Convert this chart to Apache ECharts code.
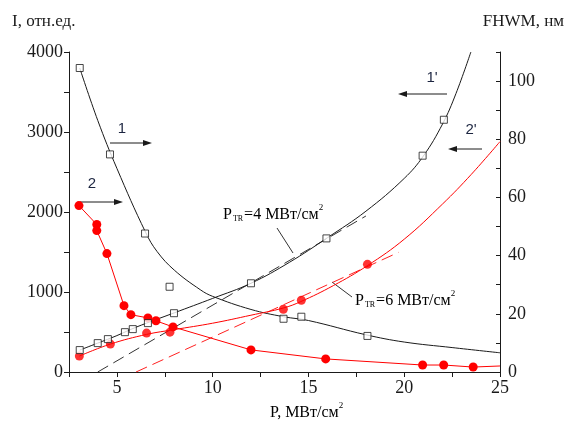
<!DOCTYPE html>
<html>
<head>
<meta charset="utf-8">
<script src="https://cdn.jsdelivr.net/npm/echarts@6/dist/echarts.min.js"></script>
<style>
  html, body { margin: 0; padding: 0; background: #fff; }
  #chart { width: 567px; height: 424px; }
</style>
</head>
<body>
<div id="chart"></div>
<script>
// curve 1 - FHWM (right axis), black squares + fitted line
const sq1P = [3.06, 4.64, 6.47, 7.75, 13.7, 14.63, 18.08]
const sq1W = [104.5, 74.8, 47.6, 29.3, 18.3, 19.0, 12.4]
const fit1P = [3.06, 4, 5, 6.5, 7.1, 8, 9.35, 10, 12, 13.7, 15, 18, 20, 22.5, 25]
const fit1W = [104.5, 86.5, 70, 48, 41.4, 35, 28.3, 26, 21.5, 19, 17.7, 12.8, 10.3, 8.4, 6.6]

// curve 1' - intensity (left axis), black squares + fitted line
const sq1pP = [3.06, 4.0, 4.53, 5.42, 5.83, 6.62, 7.98, 12.0, 15.94, 20.96, 22.07]
const sq1pI = [274, 361, 411, 498, 536, 611, 735, 1109, 1670, 2704, 3153]
const fit1pP = [3.06, 4, 5, 6, 8, 10, 12, 14, 16, 18, 20, 21, 22, 22.7, 23.48]
const fit1pI = [274, 361, 455, 560, 740, 920, 1109, 1370, 1680, 2010, 2420, 2700, 3100, 3480, 4000]

// curve 2 - FHWM (right axis), red dots joined
const p2 = [3.02, 3.95, 3.95, 4.48, 5.37, 5.73, 6.62, 7.04, 7.93, 12.0, 15.9, 20.96, 22.06, 23.6]
const w2 = [57.2, 50.7, 48.6, 40.7, 22.8, 19.7, 18.6, 17.6, 15.5, 7.6, 4.5, 2.4, 2.4, 1.7]
const tail2P = [23.6, 25]
const tail2W = [1.7, 2.07]

// curve 2' - intensity (left axis), red dots + fitted line
const p2p = [3.04, 4.66, 6.55, 7.77, 13.69, 14.63, 18.08]
const i2p = [199, 349, 486, 498, 785, 897, 1346]
const fit2pP = [3.04, 4.66, 6.55, 8, 10, 12, 13.69, 14.6, 16.3, 18.08, 20, 22, 23.5, 25]
const fit2pI = [199, 349, 470, 530, 610, 710, 800, 880, 1080, 1330, 1660, 2100, 2470, 2880]

// threshold tangents
const tanBP = [4, 18]
const tanBI = [0, 1950]
const tanRP = [6, 19.7]
const tanRI = [0, 1495]

const zip = (a, b) => a.map((v, i) => [v, b[i]])

const serif = '"Liberation Serif", "Times New Roman", Times, "DejaVu Serif", serif'
const sans = '"Liberation Sans", Arial, sans-serif'
const ink = '#1a1a1a'

const chart = echarts.init(document.getElementById('chart'))

const arrow = (x1, x2, y) => {
  const dir = x2 > x1 ? 1 : -1
  return [
    { type: 'line', shape: { x1: x1, y1: y, x2: x2 - dir * 4, y2: y }, style: { stroke: ink, lineWidth: 1 } },
    { type: 'polygon', shape: { points: [[x2, y], [x2 - dir * 9, y - 3], [x2 - dir * 9, y + 3]] }, style: { fill: ink } }
  ]
}

const ptrRich = {
  p: { fontFamily: serif, fontSize: 16, color: ink, verticalAlign: 'bottom', lineHeight: 20 },
  sub: { fontFamily: serif, fontSize: 8, color: ink, verticalAlign: 'bottom', lineHeight: 20, padding: [0, 1, 0, 1] },
  t: { fontFamily: serif, fontSize: 16, color: ink, verticalAlign: 'bottom', lineHeight: 20 },
  sup: { fontFamily: serif, fontSize: 9, color: ink, verticalAlign: 'top', lineHeight: 20 }
}

const numLabel = {
  fontFamily: serif,
  fontSize: 18,
  color: ink
}

const option = {
  animation: false,
  grid: { left: 69, right: 67, top: 52, bottom: 52, outerBoundsMode: 'none' },
  xAxis: {
    type: 'value',
    min: 2.5,
    max: 25,
    interval: 2.5,
    axisLine: { lineStyle: { color: ink } },
    axisTick: { length: 5, lineStyle: { color: ink } },
    splitLine: { show: false },
    axisLabel: Object.assign({}, numLabel, {
      margin: 7,
      formatter: v => (v % 5 === 0 ? String(v) : '')
    })
  },
  yAxis: [
    {
      type: 'value',
      min: 0,
      max: 4000,
      interval: 500,
      axisLine: { show: true, lineStyle: { color: ink } },
      axisTick: { show: true, length: 5, lineStyle: { color: ink } },
      splitLine: { show: false },
      axisLabel: Object.assign({}, numLabel, {
        margin: 6,
        formatter: v => (v % 1000 === 0 ? String(v) : '')
      })
    },
    {
      type: 'value',
      min: 0,
      max: 110,
      interval: 10,
      position: 'right',
      axisLine: { show: true, lineStyle: { color: ink } },
      axisTick: { show: true, inside: true, length: 4, lineStyle: { color: ink } },
      splitLine: { show: false },
      axisLabel: Object.assign({}, numLabel, {
        margin: 8,
        formatter: v => (v % 20 === 0 && v <= 100 ? String(v) : '')
      })
    }
  ],
  series: [
    {
      type: 'line',
      yAxisIndex: 0,
      data: zip(tanBP, tanBI),
      showSymbol: false,
      lineStyle: { color: '#333', width: 1, type: [12, 6] }
    },
    {
      type: 'line',
      yAxisIndex: 0,
      data: zip(tanRP, tanRI),
      showSymbol: false,
      lineStyle: { color: '#ff2020', width: 1, type: [12, 6] }
    },
    {
      type: 'line',
      yAxisIndex: 1,
      data: zip(fit1P, fit1W),
      smooth: 0.4,
      showSymbol: false,
      lineStyle: { color: ink, width: 1 }
    },
    {
      type: 'line',
      yAxisIndex: 0,
      data: zip(fit1pP, fit1pI),
      smooth: 0.4,
      showSymbol: false,
      lineStyle: { color: ink, width: 1 }
    },
    {
      type: 'line',
      yAxisIndex: 0,
      data: zip(fit2pP, fit2pI),
      smooth: 0.4,
      showSymbol: false,
      lineStyle: { color: '#ff0000', width: 1 }
    },
    {
      type: 'line',
      yAxisIndex: 1,
      data: zip(tail2P, tail2W),
      showSymbol: false,
      lineStyle: { color: '#ff0000', width: 1 }
    },
    {
      type: 'line',
      yAxisIndex: 1,
      data: zip(p2, w2),
      symbol: 'circle',
      symbolSize: 9,
      itemStyle: { color: '#ff0000' },
      lineStyle: { color: '#ff0000', width: 1 },
      z: 4
    },
    {
      type: 'scatter',
      yAxisIndex: 0,
      data: zip(p2p, i2p),
      symbol: 'circle',
      symbolSize: 9,
      itemStyle: { color: '#ff0000' },
      z: 4
    },
    {
      type: 'scatter',
      yAxisIndex: 1,
      data: zip(sq1P, sq1W),
      symbol: 'rect',
      symbolSize: 7,
      itemStyle: { color: '#fff', borderColor: ink, borderWidth: 1 },
      z: 5
    },
    {
      type: 'scatter',
      yAxisIndex: 0,
      data: zip(sq1pP, sq1pI),
      symbol: 'rect',
      symbolSize: 7,
      itemStyle: { color: '#fff', borderColor: ink, borderWidth: 1 },
      z: 5
    }
  ],
  graphic: [
    { type: 'text', left: 12, top: 13, style: { text: 'I, отн.ед.', fontFamily: serif, fontSize: 17, fill: ink } },
    { type: 'text', right: 3, top: 13, style: { text: 'FHWM, нм', fontFamily: serif, fontSize: 17, fill: ink } },
    {
      type: 'text', left: 270, top: 401,
      style: {
        text: '{t|P, МВт/см}{sup|2}',
        rich: {
          t: { fontFamily: serif, fontSize: 16, color: ink, verticalAlign: 'bottom', lineHeight: 20 },
          sup: { fontFamily: serif, fontSize: 9, color: ink, verticalAlign: 'top', lineHeight: 20 }
        }
      }
    },
    { type: 'text', left: 223, top: 203, style: { text: '{p|P}{sub|TR}{t|=4 МВт/см}{sup|2}', rich: ptrRich } },
    { type: 'text', left: 355, top: 289, style: { text: '{p|P}{sub|TR}{t|=6 МВт/см}{sup|2}', rich: ptrRich } },
    { type: 'line', shape: { x1: 277, y1: 228, x2: 293, y2: 253 }, style: { stroke: '#333', lineWidth: 1 } },
    { type: 'line', shape: { x1: 332, y1: 282, x2: 352, y2: 297 }, style: { stroke: '#333', lineWidth: 1 } },
    { type: 'text', x: 122, y: 129, style: { text: '1', fontFamily: sans, fontSize: 15, fill: '#1c2540', align: 'center', verticalAlign: 'middle' } },
    { type: 'text', x: 92, y: 184, style: { text: '2', fontFamily: sans, fontSize: 15, fill: '#1c2540', align: 'center', verticalAlign: 'middle' } },
    { type: 'text', x: 432, y: 78, style: { text: "1'", fontFamily: sans, fontSize: 15, fill: '#1c2540', align: 'center', verticalAlign: 'middle' } },
    { type: 'text', x: 471, y: 130, style: { text: "2'", fontFamily: sans, fontSize: 15, fill: '#1c2540', align: 'center', verticalAlign: 'middle' } }
  ]
    .concat(arrow(110, 152, 143))
    .concat(arrow(80, 123, 202))
    .concat(arrow(447, 398, 94))
    .concat(arrow(482, 448, 149))
}

chart.setOption(option)
window.addEventListener('resize', function () {
  chart.resize()
})
</script>
</body>
</html>
